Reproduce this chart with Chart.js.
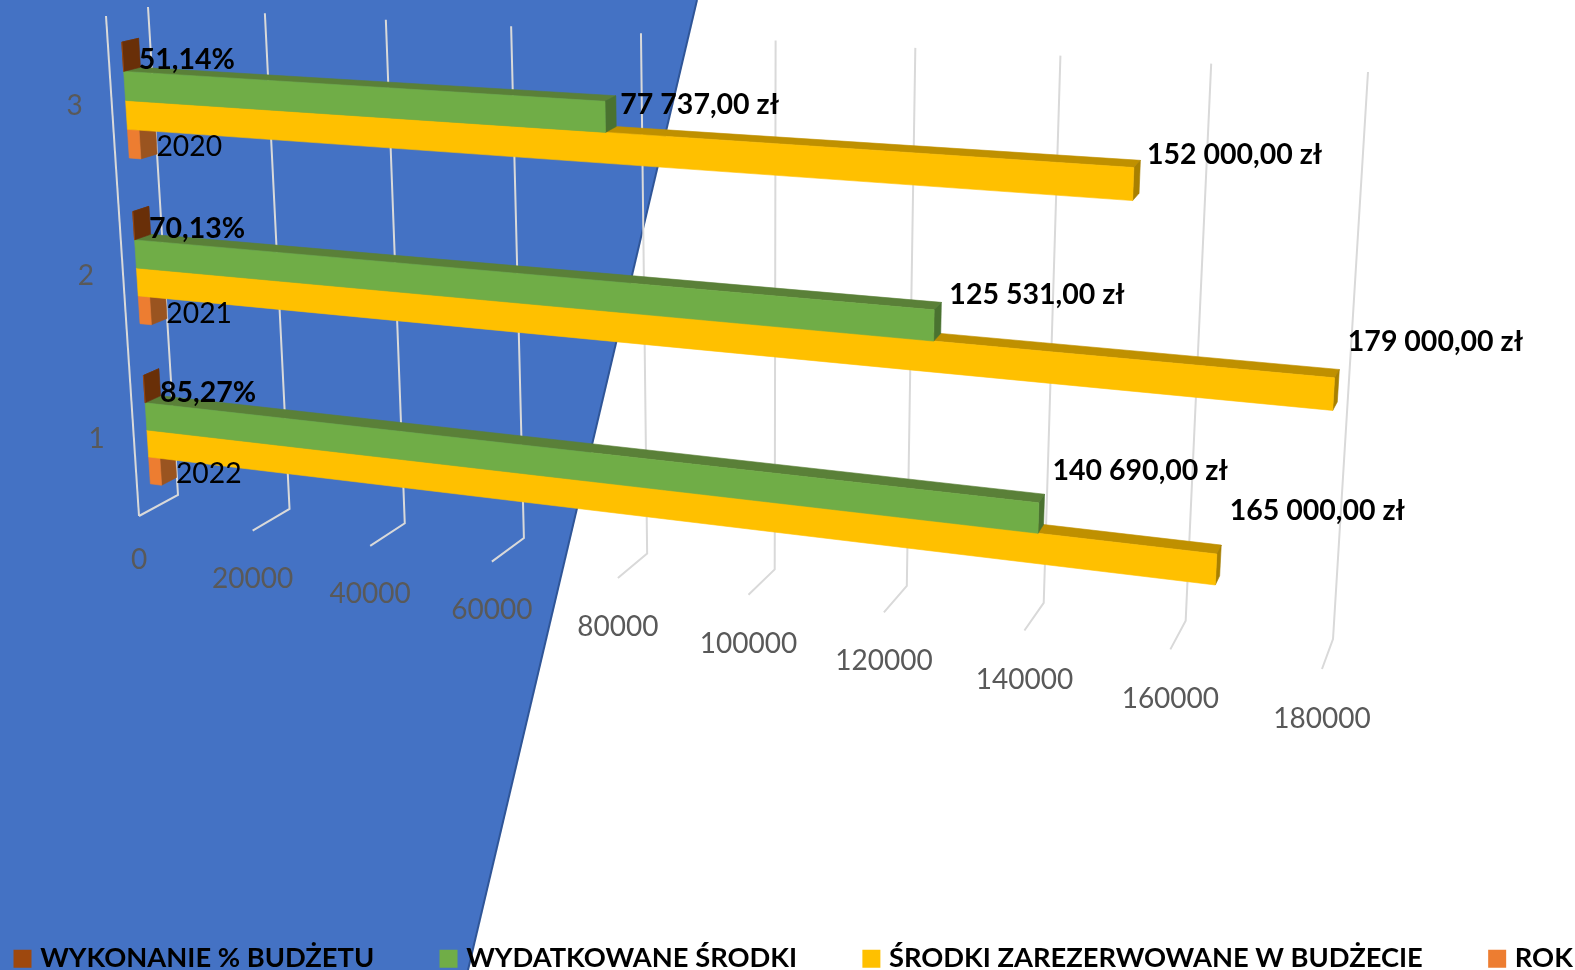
<!DOCTYPE html>
<html lang="pl">
<head>
<meta charset="utf-8">
<title>Budżet</title>
<style>html,body{margin:0;padding:0;background:#fff;overflow:hidden}canvas{display:block}</style>
<script src="https://cdn.jsdelivr.net/npm/chart.js@4/dist/chart.umd.js"></script>
</head>
<body>
<canvas id="c" width="1575" height="970"></canvas>
<script>
// ---- data (top row first) ----
const categories = ['3', '2', '1'];
const executionPct = [51.14, 70.13, 85.27];
const spent = [77737, 125531, 140690];
const reserved = [152000, 179000, 165000];
const years = [2020, 2021, 2022];
const seriesNames = ['WYKONANIE % BUDŻETU', 'WYDATKOWANE ŚRODKI', 'ŚRODKI ZAREZERWOWANE W BUDŻECIE', 'ROK'];
const axisMax = 180000;
const axisStep = 20000;

// ---- styles ----
const frontColors = ['#9E480E', '#70AD47', '#FFC000', '#ED7D31'];
const topColors = ['#7a3a0c', '#5A8038', '#BF9000', '#B05F25'];
const sideColors = ['#692F08', '#4A7230', '#A88000', '#9A5420'];
const FONT = 'Lato, Carlito, sans-serif';

// ---- view geometry: unit square of the plot -> screen ----
function quad(p0, p1, p2, p3) {
  const dx1 = p1[0]-p2[0], dx2 = p3[0]-p2[0], sx = p0[0]-p1[0]+p2[0]-p3[0];
  const dy1 = p1[1]-p2[1], dy2 = p3[1]-p2[1], sy = p0[1]-p1[1]+p2[1]-p3[1];
  const den = dx1*dy2-dx2*dy1;
  const g = (sx*dy2-dx2*sy)/den, h = (dx1*sy-sx*dy1)/den;
  const a = p1[0]-p0[0]+g*p1[0], b = p3[0]-p0[0]+h*p3[0], c = p0[0];
  const d = p1[1]-p0[1]+g*p1[1], e = p3[1]-p0[1]+h*p3[1], f = p0[1];
  return (u, v) => { const w = g*u+h*v+1; return [(a*u+b*v+c)/w, (d*u+e*v+f)/w]; };
}
const barFront = quad([120,14.5],[1360,81],[1326,659],[152,509]);
const barBack  = quad([137,10.9],[1366,73.5],[1329.5,649.5],[167,501]);
const wallBack = quad([148,7],[1368,72],[1333,639],[178,495]);
const wallFront = quad([106,16],[1358,85],[1322,669],[139,516]);

function uv(chart, px, py) {
  const a = chart.chartArea;
  return [(px-a.left)/(a.right-a.left), (py-a.top)/(a.bottom-a.top)];
}
function poly(ctx, pts, color) {
  ctx.beginPath();
  pts.forEach((p, i) => i ? ctx.lineTo(p[0], p[1]) : ctx.moveTo(p[0], p[1]));
  ctx.closePath();
  ctx.fillStyle = color;
  ctx.strokeStyle = color;
  ctx.lineWidth = 0.6;
  ctx.fill();
  ctx.stroke();
}

// bars are drawn by the library's own bar elements, projected into the 3-D view
let currentChart = null, currentIndex = 0;
Chart.BarElement.prototype.draw = function (ctx) {
  const chart = currentChart, idx = currentIndex;
  const [u1, v0] = uv(chart, this.x, this.y - this.height/2);
  const [u0, v1] = uv(chart, this.base, this.y + this.height/2);
  ctx.save();
  poly(ctx, [barFront(u0,v0), barFront(u1,v0), barBack(u1,v0), barBack(u0,v0)], topColors[idx]);
  poly(ctx, [barFront(u1,v0), barFront(u1,v1), barBack(u1,v1), barBack(u1,v0)], sideColors[idx]);
  poly(ctx, [barFront(u0,v0), barFront(u1,v0), barFront(u1,v1), barFront(u0,v1)], this.options.backgroundColor);
  ctx.restore();
};

// label placement relative to the far top corner of each bar's end
const labelNudgeX = [[0,0,1],[4.5,8,8],[6.5,8.5,8.5],[1,1,1]];
const labelNudgeY = [[21.5,22,24],[9,-8,-23],[-6,-28,-34],[21,23,23]];
function plLabel(datasetIndex, value) {
  if (datasetIndex === 0) return value.toFixed(2).replace('.', ',') + '%';
  if (datasetIndex === 3) return String(value);
  const s = String(value).replace(/\B(?=(\d{3})+$)/g, ' ');
  return s + ',00 zł';
}

const view3d = {
  id: 'view3d',
  beforeDraw(chart) {
    const ctx = chart.ctx;
    ctx.save();
    ctx.beginPath();
    ctx.moveTo(0,0); ctx.lineTo(697,0); ctx.lineTo(468,970); ctx.lineTo(0,970); ctx.closePath();
    ctx.fillStyle = '#4472C4';
    ctx.fill();
    ctx.beginPath(); ctx.moveTo(697,0); ctx.lineTo(468,970);
    ctx.strokeStyle = '#2F5597'; ctx.lineWidth = 2; ctx.stroke();
    ctx.restore();
    // legend laid out on one line across the full width
    const lg = chart.legend, P = lg.options.labels.padding;
    lg.left = 18.5 - P; lg.right = 4000; lg.top = 945 - P; lg.bottom = 1100;
  },
  beforeDatasetDraw(chart, args) { currentChart = chart; currentIndex = args.index; },
  beforeDatasetsDraw(chart) {
    const ctx = chart.ctx, xs = chart.scales.x, ys = chart.scales.y;
    ctx.save();
    ctx.lineWidth = 2;
    ctx.strokeStyle = '#D9D9D9';
    const line = (a, b) => { ctx.beginPath(); ctx.moveTo(a[0],a[1]); ctx.lineTo(b[0],b[1]); ctx.stroke(); };
    xs.ticks.forEach((t, i) => {
      const [u] = uv(chart, xs.getPixelForValue(t.value), chart.chartArea.top);
      const top = wallBack(u,0), bot = wallBack(u,1), fr = wallFront(u,1);
      ctx.beginPath(); ctx.moveTo(top[0],top[1]); ctx.lineTo(bot[0],bot[1]); ctx.lineTo(fr[0],fr[1]); ctx.stroke();
      if (i === 0) line(wallFront(0,0), wallFront(0,1));
      ctx.fillStyle = '#595959';
      ctx.font = '28px ' + FONT;
      ctx.textAlign = 'center'; ctx.textBaseline = 'middle';
      ctx.fillText(t.label, fr[0], fr[1] + (i === 0 ? 43.5 : 48 + 1.5*u));
    });
    categories.forEach((c, i) => {
      const [, v] = uv(chart, chart.chartArea.left, ys.getPixelForValue(i));
      const p = wallFront(0, v);
      ctx.fillStyle = '#595959';
      ctx.font = '28px ' + FONT;
      ctx.textAlign = 'center'; ctx.textBaseline = 'middle';
      ctx.fillText(c, p[0] - 37, p[1] + 3);
    });
    ctx.restore();
  },
  afterDatasetsDraw(chart) {
    const ctx = chart.ctx;
    ctx.save();
    ctx.fillStyle = '#000';
    ctx.textAlign = 'left'; ctx.textBaseline = 'middle';
    chart.data.datasets.forEach((ds, d) => {
      chart.getDatasetMeta(d).data.forEach((el, i) => {
        const [u, v] = uv(chart, el.x, el.y - el.height/2);
        const p = barBack(u, v);
        ctx.font = (d === 3 ? '28.3px ' : '700 28.5px ') + FONT;
        ctx.fillText(plLabel(d, ds.rawValues[i]), p[0] + labelNudgeX[d][i], p[1] + labelNudgeY[d][i]);
      });
    });
    ctx.restore();
  }
};

const seriesData = [executionPct.map(p => p/100), spent, reserved, years];
const seriesRaw = [executionPct, spent, reserved, years];

new Chart(document.getElementById('c'), {
  type: 'bar',
  data: {
    labels: categories,
    datasets: seriesNames.map((name, i) => ({
      label: name,
      data: seriesData[i],
      rawValues: seriesRaw[i],
      backgroundColor: frontColors[i],
      categoryPercentage: 0.68,
      barPercentage: 1
    }))
  },
  options: {
    indexAxis: 'y',
    responsive: false,
    animation: false,
    events: [],
    layout: { padding: 0 },
    scales: {
      x: { display: false, min: 0, max: axisMax, ticks: { stepSize: axisStep, callback: v => String(v) } },
      y: { display: false }
    },
    plugins: {
      tooltip: { enabled: false },
      legend: {
        position: 'bottom',
        align: 'start',
        labels: {
          usePointStyle: true, pointStyle: 'rect',
          boxWidth: 8, boxHeight: 18, padding: 70.35, color: '#000',
          font: { family: FONT, size: 27.3, weight: '700' }
        }
      }
    }
  },
  plugins: [view3d]
});
</script>
</body>
</html>
